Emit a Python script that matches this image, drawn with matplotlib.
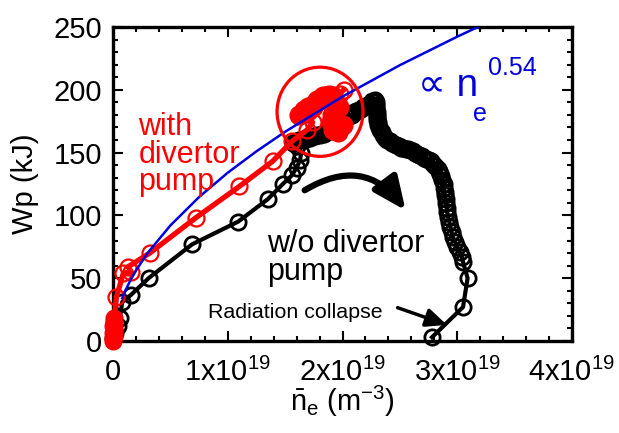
import matplotlib
matplotlib.use("Agg")
import matplotlib.pyplot as plt
from matplotlib.patches import Ellipse, FancyArrowPatch
from matplotlib.ticker import MultipleLocator

plt.rcParams['font.family'] = ['Liberation Sans', 'DejaVu Sans']
plt.rcParams['mathtext.fontset'] = 'custom'
plt.rcParams['mathtext.rm'] = 'Liberation Sans'
plt.rcParams['mathtext.it'] = 'Liberation Sans:italic'

# density in units of 1e19 m^-3, stored energy in kJ

# w/o divertor pump: sparse rise, dense hump, descent to collapse
black_rise_n = [0.00, 0.02, 0.04, 0.06, 0.08, 0.16, 0.31, 0.69, 1.09, 1.35, 1.48, 1.56, 1.60, 1.63, 1.64, 1.60, 1.57]
black_rise_w = [2, 6, 12, 18, 31, 37, 50, 77, 95, 113, 125, 132, 138, 144, 150, 155, 158]
black_hump_n = [1.58, 1.60, 1.62, 1.64, 1.66, 1.68, 1.70, 1.72, 1.74, 1.76, 1.78, 1.80,
                1.82, 1.84, 1.86, 1.88, 1.90, 1.92, 1.94, 1.96, 1.98, 2.00, 2.02, 2.04,
                2.06, 2.08, 2.10, 2.12, 2.14, 2.16, 2.18, 2.20, 2.22, 2.24, 2.26, 2.28]
black_hump_w = [158, 159, 160, 160, 161, 161, 162, 162, 163, 163, 164, 164,
                165, 165, 166, 167, 168, 169, 170, 172, 173, 175, 176, 178,
                179, 180, 182, 183, 184, 185, 186, 187, 188, 189, 191, 192]
black_fall_n = [2.29, 2.29, 2.29, 2.29, 2.30, 2.30, 2.30, 2.30, 2.31, 2.31, 2.32, 2.33,
                2.34, 2.35, 2.37, 2.39, 2.41, 2.43, 2.45, 2.47, 2.49, 2.51, 2.53, 2.55,
                2.57, 2.59, 2.61, 2.63, 2.65, 2.67, 2.69, 2.71, 2.73, 2.75, 2.77, 2.79,
                2.81, 2.83, 2.84, 2.85, 2.86, 2.87, 2.88, 2.88, 2.89, 2.89, 2.90, 2.90,
                2.91, 2.91, 2.92, 2.93, 2.94, 2.95, 2.96, 2.98, 3.00, 3.02, 3.04, 3.05,
                3.09, 3.05, 2.78]
black_fall_w = [190, 188, 186, 184, 182, 180, 178, 176, 174, 172, 170, 168,
                166, 164, 162, 160, 159, 158, 157, 156, 155, 154, 154, 153,
                153, 152, 151, 150, 149, 148, 147, 146, 145, 144, 143, 141,
                139, 137, 135, 133, 131, 128, 125, 122, 119, 116, 113, 110,
                106, 103, 99, 95, 91, 87, 83, 79, 75, 71, 67, 63,
                50, 27, 3]

# with divertor pump
red_start_n = [0.00, 0.00, 0.01, 0.00, 0.01, 0.01, 0.00, 0.01, 0.01, 0.01]
red_start_w = [0, 2, 4, 6, 8, 10, 12, 14, 16, 18]
red_rise_n = [0.03, 0.09, 0.16, 0.13, 0.32, 0.72, 1.10, 1.39, 1.56, 1.69, 1.74]
red_rise_w = [35, 54, 55, 59, 70, 98, 123, 143, 159, 168, 174]
red_peak_n = [1.62, 1.66, 1.70, 1.75, 1.80, 1.86, 1.92, 1.91, 1.90, 1.92, 1.96, 2.00, 1.97,
              1.93, 1.88, 1.83, 1.78, 1.74, 1.70, 1.66]
red_peak_w = [180, 184, 186, 189, 192, 195, 195, 180, 174, 168, 166, 172, 186,
              192, 196, 195, 192, 186, 183, 182]
red_end_n = [1.98, 2.01]
red_end_w = [197, 200]

# scaling curve, prop. to n^0.54
fit_n = [0.08, 0.10, 0.15, 0.20, 0.30, 0.50, 0.75, 1.00, 1.25, 1.50, 2.00, 2.50, 3.00, 3.18]
fit_w = [34, 38.6, 48.1, 56.1, 69.9, 92, 114.6, 134, 151, 166.6, 194.6, 219.6, 242.3, 250]

x_ticks = [0, 1, 2, 3, 4]
x_labels = ['0', '1x10$^{19}$', '2x10$^{19}$', '3x10$^{19}$', '4x10$^{19}$']
y_ticks = [0, 50, 100, 150, 200, 250]

fig = plt.figure(figsize=(6.19, 4.33), dpi=100)
ax = fig.add_axes([0.1826, 0.2125, 0.7415, 0.7252])

red = '#ff0000'
blue = '#0000dd'

# black series
bn = black_rise_n + black_hump_n + black_fall_n
bw = black_rise_w + black_hump_w + black_fall_w
ax.plot(bn, bw, '-', color='black', lw=3.0, zorder=2, clip_on=False)
ax.plot(bn, bw, 'o', mfc='none', mec='black', ms=11, mew=2.0, zorder=2, clip_on=False)

# red series
rn = red_start_n + red_rise_n + red_peak_n + red_end_n
rw = red_start_w + red_rise_w + red_peak_w + red_end_w
ax.plot(rn, rw, '-', color=red, lw=3.8, zorder=3, clip_on=False)
ax.plot(red_rise_n + red_end_n, red_rise_w + red_end_w, 'o', mfc='none', mec=red,
        ms=11.5, mew=1.6, zorder=3, clip_on=False)
ax.plot(red_start_n, red_start_w, 'o', color=red, ms=12, zorder=3, clip_on=False)
ax.plot(red_peak_n, red_peak_w, 'o', color=red, ms=13.5, zorder=3, clip_on=False)

# scaling curve
ax.plot(fit_n, fit_w, '-', color=blue, lw=1.8, zorder=4)

ax.add_patch(Ellipse((1.804, 182.5), 0.749, 71, fill=False, ec=red, lw=2.3, zorder=5))

ax.set_xlim(0, 4)
ax.set_ylim(0, 250)
ax.set_xticks(x_ticks)
ax.set_xticklabels(x_labels)
ax.set_yticks(y_ticks)
ax.xaxis.set_minor_locator(MultipleLocator(0.2))
ax.yaxis.set_minor_locator(MultipleLocator(10))
ax.tick_params(which='both', direction='in', top=True, right=True, labelsize=21, width=1.5)
ax.tick_params(which='major', length=7)
ax.tick_params(which='minor', length=3.5)
ax.tick_params(axis='x', pad=12)
ax.tick_params(axis='y', pad=8)
for s in ax.spines.values():
    s.set_linewidth(2.4)

ax.set_xlabel(r'$\bar{\mathrm{n}}_{\mathrm{e}}$ (m$^{\mathrm{-3}}$)', fontsize=21, labelpad=-2)
ax.set_ylabel('Wp (kJ)', fontsize=21, labelpad=10)

ax.text(0.22, 182, 'with\ndivertor\npump', color=red, fontsize=22, va='top', ha='left',
        linespacing=0.88, zorder=6)
ax.text(1.34, 48.6, 'w/o divertor\npump', color='black', fontsize=22, va='baseline', ha='left',
        linespacing=0.9)
ax.text(0.83, 18.5, 'Radiation collapse', color='black', fontsize=15.4, va='baseline', ha='left')
ax.text(2.66, 195, '\u221d n', color=blue, fontsize=28, va='baseline', ha='left')
ax.text(3.14, 175, 'e', color=blue, fontsize=18, va='baseline', ha='left')
ax.text(3.27, 212, '0.54', color=blue, fontsize=18, va='baseline', ha='left')

ax.add_patch(FancyArrowPatch((1.67, 120), (2.55, 104), connectionstyle='arc3,rad=-0.45',
                             arrowstyle='-|>,head_length=0.9,head_width=0.4', mutation_scale=22,
                             shrinkA=0, shrinkB=0, color='black', lw=4.5, zorder=6))
ax.add_patch(FancyArrowPatch((2.48, 26.5), (2.91, 12.8), arrowstyle='-|>,head_length=0.9,head_width=0.4',
                             mutation_scale=14, shrinkA=0, shrinkB=0, color='black', lw=2.5, zorder=6))

fig.savefig('out.png', dpi=100)
